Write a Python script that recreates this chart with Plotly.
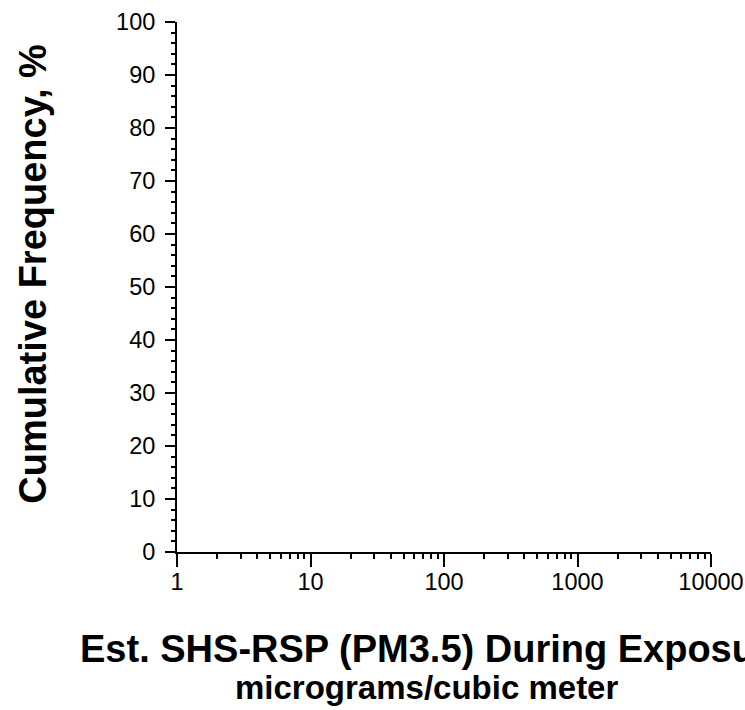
import plotly.graph_objects as go

# Data (the reference chart contains no plotted series, only axes)
x_values = []
y_values = []
x_tick_vals = [1, 10, 100, 1000, 10000]
x_tick_text = ["1", "10", "100", "1000", "10000"]
y_tick_vals = [0, 10, 20, 30, 40, 50, 60, 70, 80, 90, 100]
y_tick_text = [str(v) for v in y_tick_vals]

y_title = "Cumulative Frequency, %"
x_title = "Est. SHS-RSP (PM3.5) During Exposure"
x_subtitle = "micrograms/cubic meter"

FONT = "Liberation Sans, Arial, Helvetica, sans-serif"

fig = go.Figure()
fig.add_trace(go.Scatter(x=x_values, y=y_values, mode="lines",
                         line=dict(color="black"), showlegend=False))

fig.update_layout(
    width=745, height=710,
    margin=dict(l=177, r=34, t=22, b=158, autoexpand=False),
    paper_bgcolor="white", plot_bgcolor="white",
    font=dict(family=FONT, color="black", size=24),
    showlegend=False,
)

fig.update_xaxes(
    type="log", range=[0, 4], automargin=False,
    tickvals=x_tick_vals, ticktext=x_tick_text,
    ticks="outside", ticklen=13, tickwidth=2, tickcolor="black",
    minor=dict(ticks="outside", ticklen=5, tickwidth=2, tickcolor="black", dtick="D1"),
    showline=True, linecolor="black", linewidth=2,
    showgrid=False, zeroline=False,
    ticklabelstandoff=-5,
    tickfont=dict(size=23.5, family=FONT),
)
fig.update_yaxes(
    range=[0, 100], automargin=False,
    tickvals=y_tick_vals, ticktext=y_tick_text,
    ticks="outside", ticklen=10, tickwidth=2, tickcolor="black",
    minor=dict(ticks="outside", ticklen=4, tickwidth=2, tickcolor="black", dtick=2),
    showline=True, linecolor="black", linewidth=2,
    showgrid=False, zeroline=False,
    ticklabelstandoff=5,
    tickfont=dict(size=23.5, family=FONT),
)

fig.add_annotation(text="<b>%s</b>" % y_title, xref="paper", yref="paper",
                   x=-0.2697, y=0.525, xanchor="center", yanchor="middle",
                   textangle=-90, showarrow=False,
                   font=dict(size=38, family=FONT, color="black"))
fig.add_annotation(text="<b>%s</b>" % x_title, xref="paper", yref="paper",
                   x=-0.1854, y=-0.183, xanchor="left", yanchor="middle",
                   showarrow=False,
                   font=dict(size=38, family=FONT, color="black"))
fig.add_annotation(text="<b>%s</b>" % x_subtitle, xref="paper", yref="paper",
                   x=0.468, y=-0.2566, xanchor="center", yanchor="middle",
                   showarrow=False,
                   font=dict(size=33, family=FONT, color="black"))

fig.write_html("out.html",
               config={"displayModeBar": False},
               post_script="document.body.style.margin='0';document.body.style.overflow='hidden';")
